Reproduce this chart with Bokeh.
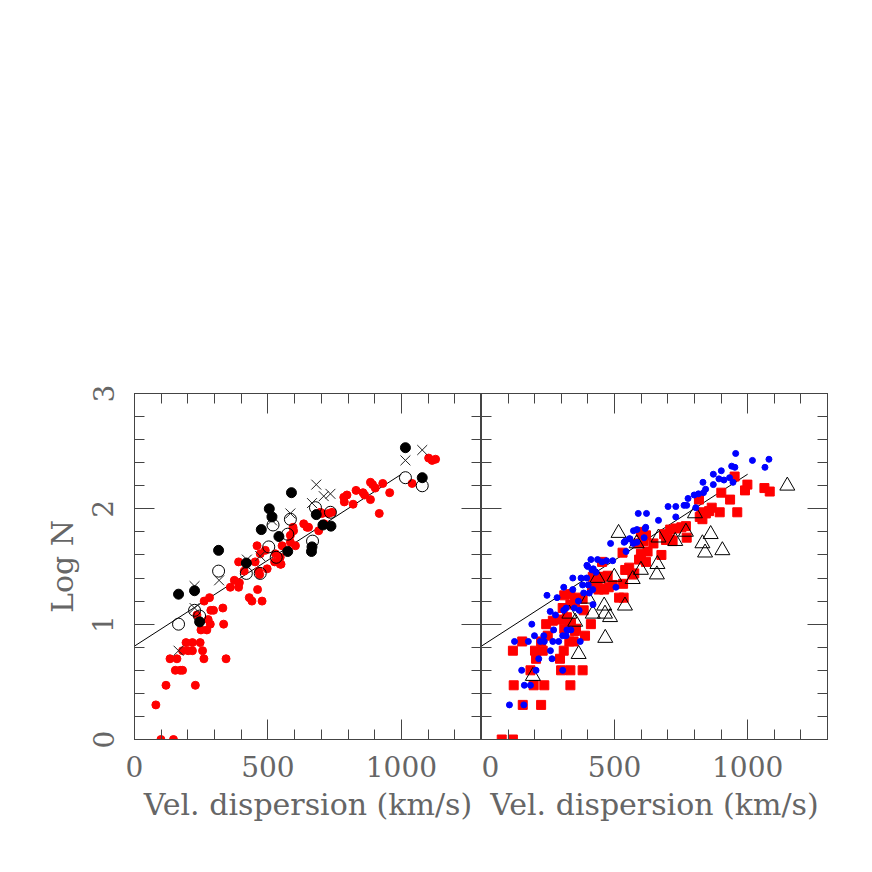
from bokeh.plotting import figure
from bokeh.layouts import row
from bokeh.models import Range1d, LinearAxis, SingleIntervalTicker, CustomLabelingPolicy
from bokeh.embed import file_html
from bokeh.resources import INLINE

# ---------------- data ----------------
# Left panel
red_left_x = [99, 146, 80, 118, 228, 133, 159, 343, 260, 153, 171, 180, 255, 180, 201, 217,
              193, 217, 246, 249, 271, 334, 284, 276, 234, 286, 296, 331, 261, 281, 359, 374,
              393, 390, 430, 440, 461, 478, 390, 411, 452, 465, 497, 471, 459, 490, 546, 546,
              528, 553, 584, 584, 603, 596, 634, 652, 690, 696, 711, 703, 727, 740, 525, 549,
              469, 784, 786, 796, 819, 830, 856, 862, 884, 892, 902, 884, 930, 956, 917, 1040,
              1102, 1115, 1128, 594, 646]
red_left_y = [0.0, 0.0, 0.30, 0.47, 0.47, 0.70, 0.70, 0.70, 0.70, 0.60, 0.60, 0.60, 0.77, 0.77, 0.77, 0.77,
              0.84, 0.84, 0.84, 0.95, 0.95, 1.00, 1.00, 1.04, 1.08, 1.12, 1.12, 1.14, 1.20, 1.23, 1.32, 1.38,
              1.36, 1.32, 1.23, 1.20, 1.30, 1.20, 1.54, 1.46, 1.54, 1.46, 1.48, 1.61, 1.68, 1.64, 1.58, 1.52,
              1.61, 1.68, 1.77, 1.71, 1.68, 1.81, 1.87, 1.84, 1.81, 1.97, 1.87, 1.96, 1.96, 1.97, 1.54, 1.52,
              1.43, 2.10, 2.06, 2.12, 2.04, 2.16, 2.14, 2.12, 2.23, 2.21, 2.18, 2.08, 2.22, 2.14, 1.96, 2.22,
              2.44, 2.42, 2.43, 1.84, 1.84]

black_x = [165, 225, 244, 315, 419, 475, 505, 515, 541, 574, 588, 663, 665, 681, 706, 736, 1015, 1078]
black_y = [1.26, 1.29, 1.02, 1.64, 1.53, 1.82, 2.00, 1.93, 1.76, 1.63, 2.14, 1.63, 1.67, 1.95, 1.86, 1.85, 2.53, 2.27]

open_x = [165, 225, 244, 315, 419, 471, 503, 519, 531, 574, 584, 667, 678, 734, 1015, 1078]
open_y = [1.00, 1.12, 1.07, 1.46, 1.44, 1.44, 1.67, 1.86, 1.58, 1.78, 1.91, 1.72, 2.01, 1.97, 2.27, 2.20]

cross_x = [165, 225, 225, 317, 421, 471, 515, 584, 665, 681, 709, 734, 1015, 1078]
cross_y = [0.77, 1.33, 1.14, 1.38, 1.56, 1.59, 1.90, 1.96, 2.05, 2.21, 2.11, 2.13, 2.42, 2.51]

# Right panel
blue_x = [955, 1018, 1080, 1065, 940, 952, 901, 871, 892, 911, 932, 945, 871, 832, 842, 834, 815, 799,
          776, 761, 771, 805, 701, 730, 730, 665, 589, 620, 617, 584, 571, 611, 558, 540, 570, 584,
          485, 543, 411, 436, 453, 470, 493, 396, 420, 430, 343, 374, 395,
          105, 159, 161, 184, 151, 205, 305, 215, 265, 259, 124, 176, 221, 236, 268, 290, 371,
          199, 234, 318, 189, 271, 305, 321, 336, 258, 278, 309, 318, 349, 367, 284, 246, 309,
          343, 384, 405, 418, 364, 419, 401, 399, 415, 505, 380, 615, 536, 555]
blue_y = [2.48, 2.42, 2.43, 2.36, 2.37, 2.36, 2.33, 2.30, 2.26, 2.25, 2.27, 2.23, 2.21, 2.23, 2.17, 2.14, 2.13, 2.12,
          2.09, 2.03, 2.03, 2.01, 2.02, 2.02, 1.93, 1.90, 1.96, 1.96, 1.84, 1.82, 1.81, 1.75, 1.74, 1.72, 1.70, 1.71,
          1.70, 1.63, 1.56, 1.56, 1.54, 1.55, 1.55, 1.51, 1.48, 1.45, 1.40, 1.40, 1.40,
          0.30, 0.30, 0.47, 0.47, 0.60, 0.60, 0.60, 0.70, 0.70, 0.77, 0.85, 0.85, 0.85, 0.85, 0.85, 0.85, 0.85,
          0.90, 0.90, 0.90, 1.00, 0.95, 0.90, 0.95, 0.95, 1.11, 1.08, 1.12, 1.14, 1.14, 1.12, 1.23, 1.25, 1.32,
          1.30, 1.27, 1.27, 1.30, 1.20, 1.17, 1.34, 1.50, 1.47, 1.32, 1.34, 1.83, 1.71, 1.74]

sq_x = [951, 999, 990, 1063, 1083, 901, 934, 961, 895, 865, 855, 843, 826, 830, 820, 817, 768, 751, 730,
        709, 686, 693, 711, 771, 646, 618, 599, 605, 676, 530, 624, 599, 592, 618, 540, 555, 567, 453,
        453, 418, 436,
        76, 118, 155, 224, 121, 196, 236, 334, 184, 299, 334, 380, 205, 295, 118, 201, 230, 309, 153,
        224, 346, 249, 330, 389, 243, 268, 296, 311, 330, 355, 411, 305, 334, 351, 384, 321, 336, 351,
        311, 334, 361, 380, 440, 461, 415, 439, 474, 478, 534, 532, 590, 609, 574, 493, 517, 442, 699, 718]
sq_y = [2.28, 2.21, 2.16, 2.18, 2.15, 2.14, 2.08, 1.97, 1.97, 2.01, 1.98, 1.96, 1.97, 1.91, 1.93, 2.08, 1.85, 1.84, 1.83,
        1.82, 1.78, 1.73, 1.73, 1.75, 1.70, 1.77, 1.80, 1.74, 1.60, 1.62, 1.63, 1.61, 1.56, 1.54, 1.47, 1.49, 1.43, 1.54,
        1.41, 1.41, 1.38,
        0.0, 0.0, 0.30, 0.30, 0.47, 0.47, 0.47, 0.47, 0.60, 0.60, 0.60, 0.60, 0.70, 0.70, 0.77, 0.77, 0.77, 0.77, 0.85,
        0.85, 0.85, 0.90, 0.85, 0.90, 1.00, 1.03, 1.04, 0.96, 0.99, 0.96, 1.00, 1.14, 1.17, 1.19, 1.12, 1.06, 1.01, 0.94,
        1.25, 1.26, 1.23, 1.22, 1.30, 1.30, 1.32, 1.41, 1.42, 1.32, 1.23, 1.35, 1.70, 1.72, 1.44, 1.34, 1.23, 1.31, 1.74, 1.72]

tri_x = [193, 365, 465, 352, 330, 418, 464, 483, 401, 461, 539, 436, 499, 568, 599, 661, 659, 515,
         583, 665, 728, 768, 802, 830, 840, 861, 905, 1149]
tri_y = [0.55, 0.74, 0.88, 1.02, 1.09, 1.09, 1.09, 1.06, 1.22, 1.16, 1.16, 1.40, 1.41, 1.39, 1.47, 1.52, 1.43, 1.79,
         1.70, 1.75, 1.72, 1.80, 1.96, 1.70, 1.62, 1.78, 1.64, 2.20]

fit_x = [0, 1000]
fit_y = [0.81, 2.30]

x_label = "Vel. dispersion (km/s)"
y_label = "Log N"

FONT = "DejaVu Serif"
TXT = "#666666"
LINE = "#444444"

NO_LABELS = """
const r = indices.clone();
const ids = Array.from(indices.ones ? indices.ones() : indices);
for (const i of ids) {
    if (r.unset) { r.unset(i); } else { r.set(i, false); }
}
return r;
"""


def style_axis(ax, labels=True):
    ax.axis_line_color = LINE
    ax.major_tick_line_color = LINE
    ax.minor_tick_line_color = LINE
    ax.major_tick_in = 20
    ax.major_tick_out = 0
    ax.minor_tick_in = 10
    ax.minor_tick_out = 0
    if labels:
        ax.major_label_text_font = FONT
        ax.major_label_text_font_size = "28px"
        ax.major_label_text_color = TXT
        ax.axis_label_text_font = FONT
        ax.axis_label_text_font_size = "30px"
        ax.axis_label_text_color = TXT
        ax.axis_label_text_font_style = "normal"
    else:
        ax.major_label_text_font_size = "0px"
        ax.major_label_standoff = 0
        ax.major_label_policy = CustomLabelingPolicy(code=NO_LABELS)
        ax.axis_label = None


def make_fig(width, left_border, right_border, ylabels):
    p = figure(width=width, height=839, x_range=Range1d(0, 1300), y_range=Range1d(0, 3),
               output_backend="svg", toolbar_location=None,
               min_border_left=left_border, min_border_right=right_border,
               min_border_top=393, min_border_bottom=100,
               x_axis_type=None, y_axis_type=None)
    p.grid.visible = False
    p.outline_line_color = LINE
    p.background_fill_color = "white"
    p.border_fill_color = "white"

    xb = LinearAxis(ticker=SingleIntervalTicker(interval=500, num_minor_ticks=5), axis_label=x_label)
    style_axis(xb)
    xb.major_label_standoff = 16
    xb.axis_label_standoff = 7
    p.add_layout(xb, "below")

    xa = LinearAxis(ticker=SingleIntervalTicker(interval=500, num_minor_ticks=5))
    style_axis(xa, labels=False)
    p.add_layout(xa, "above")

    yl = LinearAxis(ticker=SingleIntervalTicker(interval=1, num_minor_ticks=5))
    if ylabels:
        yl.axis_label = y_label
        style_axis(yl)
        yl.major_label_orientation = "vertical"
        yl.major_label_standoff = 21
        yl.axis_label_standoff = 10
    else:
        style_axis(yl, labels=False)
    p.add_layout(yl, "left")

    yr = LinearAxis(ticker=SingleIntervalTicker(interval=1, num_minor_ticks=5))
    style_axis(yr, labels=False)
    p.add_layout(yr, "right")

    p.line(fit_x, fit_y, line_color="black", line_width=1)
    return p


p1 = make_fig(481, 134, 0, True)
p1.scatter(red_left_x, red_left_y, marker="circle", size=8, fill_color="red", line_color="red")
p1.scatter(open_x, open_y, marker="circle", size=12, fill_color=None, line_color="black", line_width=1)
p1.scatter(cross_x, cross_y, marker="x", size=14, line_color="#222222", line_width=1)
p1.scatter(black_x, black_y, marker="circle", size=10, fill_color="black", line_color="black")

p2 = make_fig(356, 0, 10, False)
p2.scatter(sq_x, sq_y, marker="square", size=9, fill_color="red", line_color="red")
p2.scatter(tri_x, tri_y, marker="triangle", size=15, fill_color=None, line_color="black", line_width=1)
p2.scatter(blue_x, blue_y, marker="circle", size=6, fill_color="blue", line_color="blue")

layout = row(p1, p2, spacing=0)

open("out.html", "w").write(file_html(layout, INLINE))
